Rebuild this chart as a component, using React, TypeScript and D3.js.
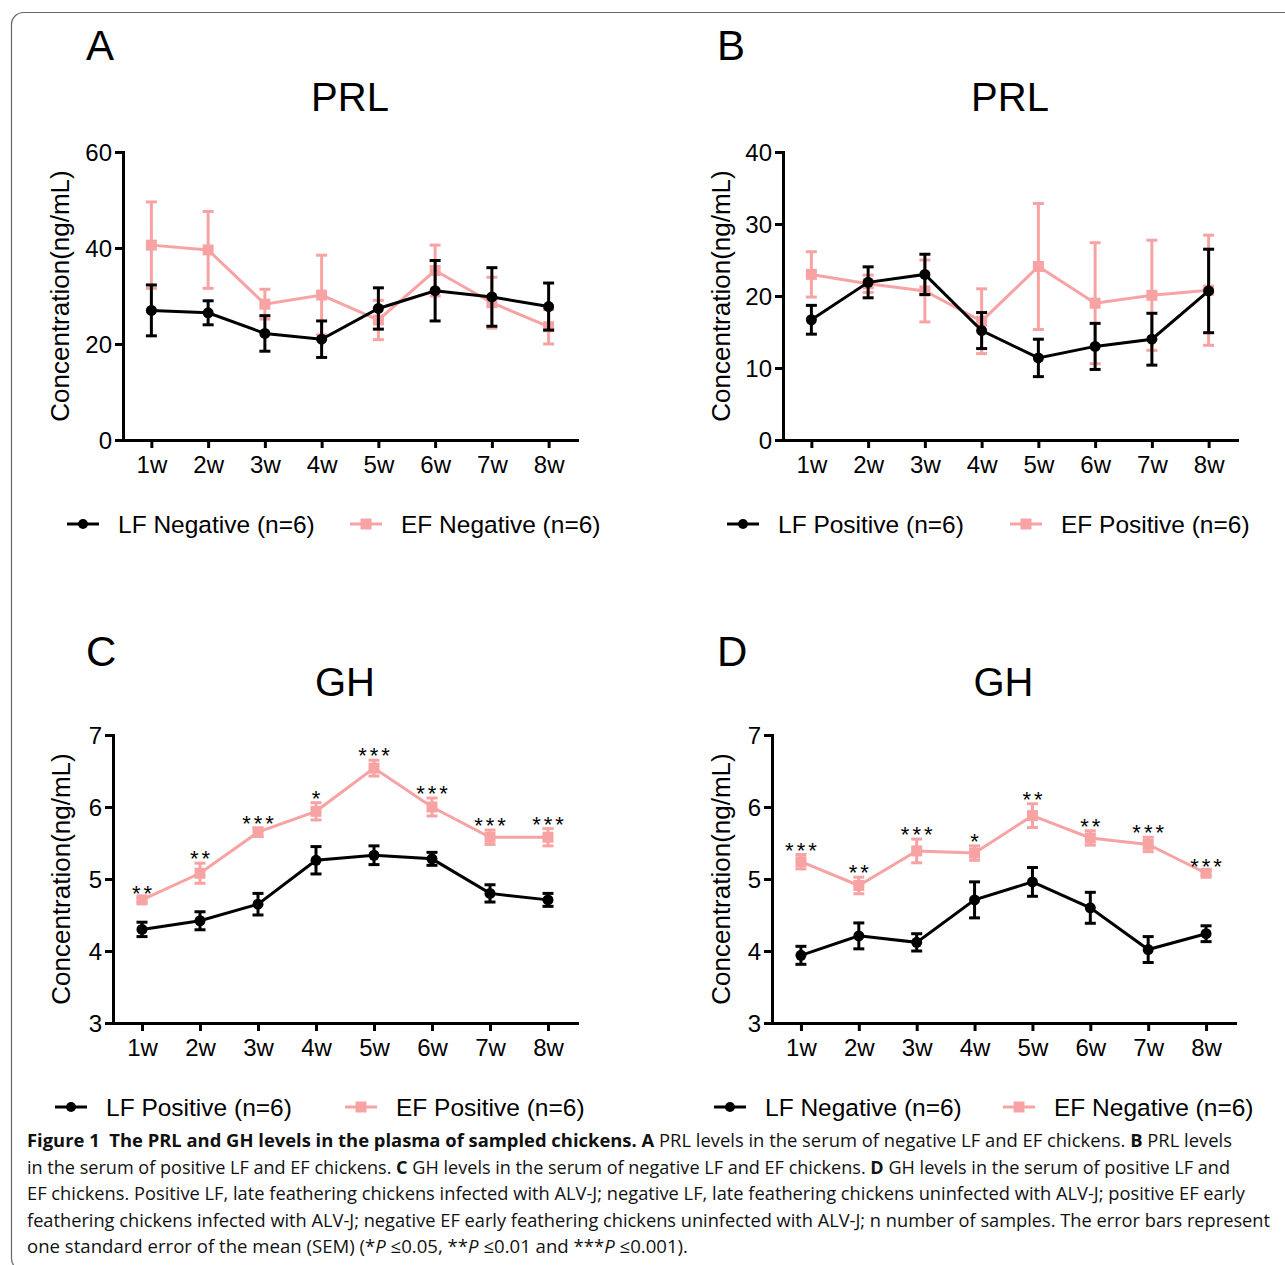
import React, { useEffect, useRef } from "react";
import * as d3 from "d3";

// weeks on the x axis
const weeks = ["1w", "2w", "3w", "4w", "5w", "6w", "7w", "8w"];

// PRL, negative chickens (panel A)
const prlNegLF = [27.0, 26.5, 22.2, 21.0, 27.4, 31.1, 29.8, 27.8];
const prlNegLFSem = [5.3, 2.5, 3.7, 3.8, 4.3, 6.3, 6.1, 4.9];
const prlNegEF = [40.6, 39.6, 28.3, 30.2, 25.0, 35.3, 28.6, 23.6];
const prlNegEFSem = [9.0, 8.0, 3.1, 8.3, 4.1, 5.3, 5.3, 3.6];

// PRL, positive chickens (panel B)
const prlPosLF = [16.7, 21.9, 23.0, 15.2, 11.4, 13.0, 14.0, 20.7];
const prlPosLFSem = [2.0, 2.15, 2.8, 2.5, 2.6, 3.2, 3.6, 5.8];
const prlPosEF = [23.0, 21.7, 20.7, 16.5, 24.1, 19.0, 20.1, 20.8];
const prlPosEFSem = [3.15, 1.2, 4.3, 4.5, 8.75, 8.4, 7.65, 7.65];

// GH, positive chickens (panel C)
const ghPosLF = [4.3, 4.42, 4.65, 5.26, 5.33, 5.28, 4.8, 4.71];
const ghPosLFSem = [0.1, 0.125, 0.15, 0.19, 0.13, 0.09, 0.12, 0.09];
const ghPosEF = [4.71, 5.08, 5.65, 5.94, 6.54, 6.0, 5.58, 5.58];
const ghPosEFSem = [0.03, 0.14, 0.06, 0.12, 0.11, 0.125, 0.1, 0.12];
const ghPosStars = ["**", "**", "***", "*", "***", "***", "***", "***"];

// GH, negative chickens (panel D)
const ghNegLF = [3.94, 4.21, 4.12, 4.71, 4.96, 4.6, 4.02, 4.24];
const ghNegLFSem = [0.125, 0.18, 0.12, 0.25, 0.2, 0.215, 0.18, 0.11];
const ghNegEF = [5.24, 4.91, 5.39, 5.36, 5.88, 5.57, 5.48, 5.08];
const ghNegEFSem = [0.1, 0.115, 0.165, 0.1, 0.165, 0.1, 0.1, 0.03];
const ghNegStars = ["***", "**", "***", "*", "**", "**", "***", "***"];

const prlTicksA = [0, 20, 40, 60];
const prlTicksB = [0, 10, 20, 30, 40];
const ghTicks = [3, 4, 5, 6, 7];

const PINK = "#f8a3a3";
const FONT = "'Liberation Sans', Arial, Helvetica, sans-serif";
const CAP_FONT = "'Open Sans', 'Noto Sans', sans-serif";

const panels = [
  {
    letter: "A", title: "PRL", x0: 123, x1: 577, yTop: 152, yBottom: 440, domain: [0, 60], ticks: prlTicksA,
    letterX: 86, letterY: 60, titleY: 111, ytX: 60, legendY: 524, blackX: 67, pinkX: 350,
    black: { v: prlNegLF, e: prlNegLFSem, name: "LF Negative (n=6)" },
    pink: { v: prlNegEF, e: prlNegEFSem, name: "EF Negative (n=6)" },
    stars: null as string[] | null,
  },
  {
    letter: "B", title: "PRL", x0: 783, x1: 1237, yTop: 152, yBottom: 440, domain: [0, 40], ticks: prlTicksB,
    letterX: 717, letterY: 60, titleY: 111, ytX: 721, legendY: 524, blackX: 727, pinkX: 1010,
    black: { v: prlPosLF, e: prlPosLFSem, name: "LF Positive (n=6)" },
    pink: { v: prlPosEF, e: prlPosEFSem, name: "EF Positive (n=6)" },
    stars: null,
  },
  {
    letter: "C", title: "GH", x0: 113, x1: 577, yTop: 735, yBottom: 1023, domain: [3, 7], ticks: ghTicks,
    letterX: 86, letterY: 666, titleY: 696, ytX: 61, legendY: 1107, blackX: 55, pinkX: 345,
    black: { v: ghPosLF, e: ghPosLFSem, name: "LF Positive (n=6)" },
    pink: { v: ghPosEF, e: ghPosEFSem, name: "EF Positive (n=6)" },
    stars: ghPosStars,
  },
  {
    letter: "D", title: "GH", x0: 772, x1: 1235, yTop: 735, yBottom: 1023, domain: [3, 7], ticks: ghTicks,
    letterX: 717, letterY: 666, titleY: 696, ytX: 721, legendY: 1107, blackX: 714, pinkX: 1003,
    black: { v: ghNegLF, e: ghNegLFSem, name: "LF Negative (n=6)" },
    pink: { v: ghNegEF, e: ghNegEFSem, name: "EF Negative (n=6)" },
    stars: ghNegStars,
  },
];

// caption lines: [text, style] where style b = bold, i = italic
const captionLines: [string, string][][] = [
  [["Figure 1\u00a0 The PRL and GH levels in the plasma of sampled chickens. A", "b"], [" PRL levels in the serum of negative LF and EF chickens. ", ""], ["B", "b"], [" PRL levels", ""]],
  [["in the serum of positive LF and EF chickens. ", ""], ["C", "b"], [" GH levels in the serum of negative LF and EF chickens. ", ""], ["D", "b"], [" GH levels in the serum of positive LF and", ""]],
  [["EF chickens. Positive LF, late feathering chickens infected with ALV-J; negative LF, late feathering chickens uninfected with ALV-J; positive EF early", ""]],
  [["feathering chickens infected with ALV-J; negative EF early feathering chickens uninfected with ALV-J; n number of samples. The error bars represent", ""]],
  [["one standard error of the mean (SEM) (*", ""], ["P", "i"], [" ≤0.05, **", ""], ["P", "i"], [" ≤0.01 and ***", ""], ["P", "i"], [" ≤0.001).", ""]],
];
const captionWidths = [1205, 1203, 1218, 1243, 661];

function drawPanel(svg: any, p: any) {
  const x = d3.scalePoint<string>().domain(weeks).range([p.x0, p.x1]).padding(0.5);
  const y = d3.scaleLinear().domain(p.domain).range([p.yBottom, p.yTop]);
  const g = svg.append("g");

  g.append("text").attr("x", p.letterX).attr("y", p.letterY)
    .attr("font-family", FONT).attr("font-size", 42).text(p.letter);
  g.append("text").attr("x", (p.x0 + p.x1) / 2).attr("y", p.titleY)
    .attr("text-anchor", "middle").attr("font-family", FONT).attr("font-size", 40).text(p.title);

  // axes
  const ya = g.append("g").attr("transform", `translate(${p.x0},0)`)
    .call(d3.axisLeft(y).tickValues(p.ticks).tickSize(8).tickSizeOuter(0).tickPadding(3).tickFormat(d3.format("d")));
  const xa = g.append("g").attr("transform", `translate(0,${p.yBottom})`)
    .call(d3.axisBottom(x).tickSize(8).tickSizeOuter(0).tickPadding(8));
  [ya, xa].forEach((a) => {
    a.attr("font-family", FONT).attr("font-size", 24);
    a.select(".domain").attr("stroke", "#000").attr("stroke-width", 3).attr("stroke-linecap", "square");
    a.selectAll(".tick line").attr("stroke", "#000").attr("stroke-width", 3);
    a.selectAll(".tick text").attr("fill", "#000");
  });
  ya.selectAll(".tick text").attr("dy", "0.36em");

  g.append("text")
    .attr("transform", `translate(${p.ytX},${(p.yTop + p.yBottom) / 2}) rotate(-90)`)
    .attr("dy", "0.35em").attr("text-anchor", "middle")
    .attr("font-family", FONT).attr("font-size", 26).text("Concentration(ng/mL)");

  const line = d3.line<number>().x((_, i) => x(weeks[i]) as number).y((d) => y(d));

  const drawSeries = (s: any, color: string, square: boolean) => {
    const sg = g.append("g");
    sg.append("path").attr("d", line(s.v)).attr("fill", "none").attr("stroke", color).attr("stroke-width", 3);
    s.v.forEach((v: number, i: number) => {
      const cx = x(weeks[i]) as number;
      const top = y(v + s.e[i]);
      const bot = y(v - s.e[i]);
      sg.append("line").attr("x1", cx).attr("x2", cx).attr("y1", top).attr("y2", bot)
        .attr("stroke", color).attr("stroke-width", 3);
      [top, bot].forEach((yy) => {
        sg.append("line").attr("x1", cx - 5.5).attr("x2", cx + 5.5).attr("y1", yy).attr("y2", yy)
          .attr("stroke", color).attr("stroke-width", 3);
      });
      if (square) {
        sg.append("rect").attr("x", cx - 5.5).attr("y", y(v) - 5.5).attr("width", 11).attr("height", 11).attr("fill", color);
      } else {
        sg.append("circle").attr("cx", cx).attr("cy", y(v)).attr("r", 5.5).attr("fill", color);
      }
    });
  };
  drawSeries(p.pink, PINK, true);
  drawSeries(p.black, "#000", false);

  if (p.stars) {
    p.stars.forEach((s: string, i: number) => {
      g.append("text").attr("x", (x(weeks[i]) as number) + 1.5).attr("y", y(p.pink.v[i] + p.pink.e[i]) + 3)
        .attr("text-anchor", "middle").attr("font-family", FONT).attr("font-size", 22)
        .attr("letter-spacing", 3).text(s);
    });
  }

  // legend
  const legendItem = (lx: number, color: string, square: boolean, name: string) => {
    g.append("line").attr("x1", lx).attr("x2", lx + 32).attr("y1", p.legendY).attr("y2", p.legendY)
      .attr("stroke", color).attr("stroke-width", 3);
    if (square) {
      g.append("rect").attr("x", lx + 16 - 5.5).attr("y", p.legendY - 5.5).attr("width", 11).attr("height", 11).attr("fill", color);
    } else {
      g.append("circle").attr("cx", lx + 16).attr("cy", p.legendY).attr("r", 5).attr("fill", color);
    }
    g.append("text").attr("x", lx + 51).attr("y", p.legendY).attr("dy", "0.35em")
      .attr("font-family", FONT).attr("font-size", 24.5).text(name);
  };
  legendItem(p.blackX, "#000", false, p.black.name);
  legendItem(p.pinkX, PINK, true, p.pink.name);
}

const App = () => {
  const ref = useRef<SVGSVGElement>(null);

  useEffect(() => {
    const svg = d3.select(ref.current);
    svg.selectAll("*").remove();

    svg.append("rect").attr("width", 1285).attr("height", 1265).attr("fill", "#fff");
    svg.append("rect").attr("x", 11.5).attr("y", 12.5).attr("width", 1320).attr("height", 1258)
      .attr("rx", 12).attr("fill", "none").attr("stroke", "#666").attr("stroke-width", 1.2);

    panels.forEach((p) => drawPanel(svg, p));

    captionLines.forEach((segs, li) => {
      const t = svg.append("text").attr("x", 27).attr("y", 1147 + li * 26.5)
        .attr("font-family", CAP_FONT).attr("font-size", 18).attr("fill", "#111")
        .attr("textLength", captionWidths[li]).attr("lengthAdjust", "spacingAndGlyphs");
      segs.forEach(([s, st]) => {
        const ts = t.append("tspan").text(s);
        if (st === "b") ts.attr("font-weight", "bold");
        if (st === "i") ts.attr("font-style", "italic");
      });
    });
  }, []);

  return (
    <svg ref={ref} width={1285} height={1265} style={{ position: "absolute", left: 0, top: 0 }}></svg>
  );
};

export default App;
